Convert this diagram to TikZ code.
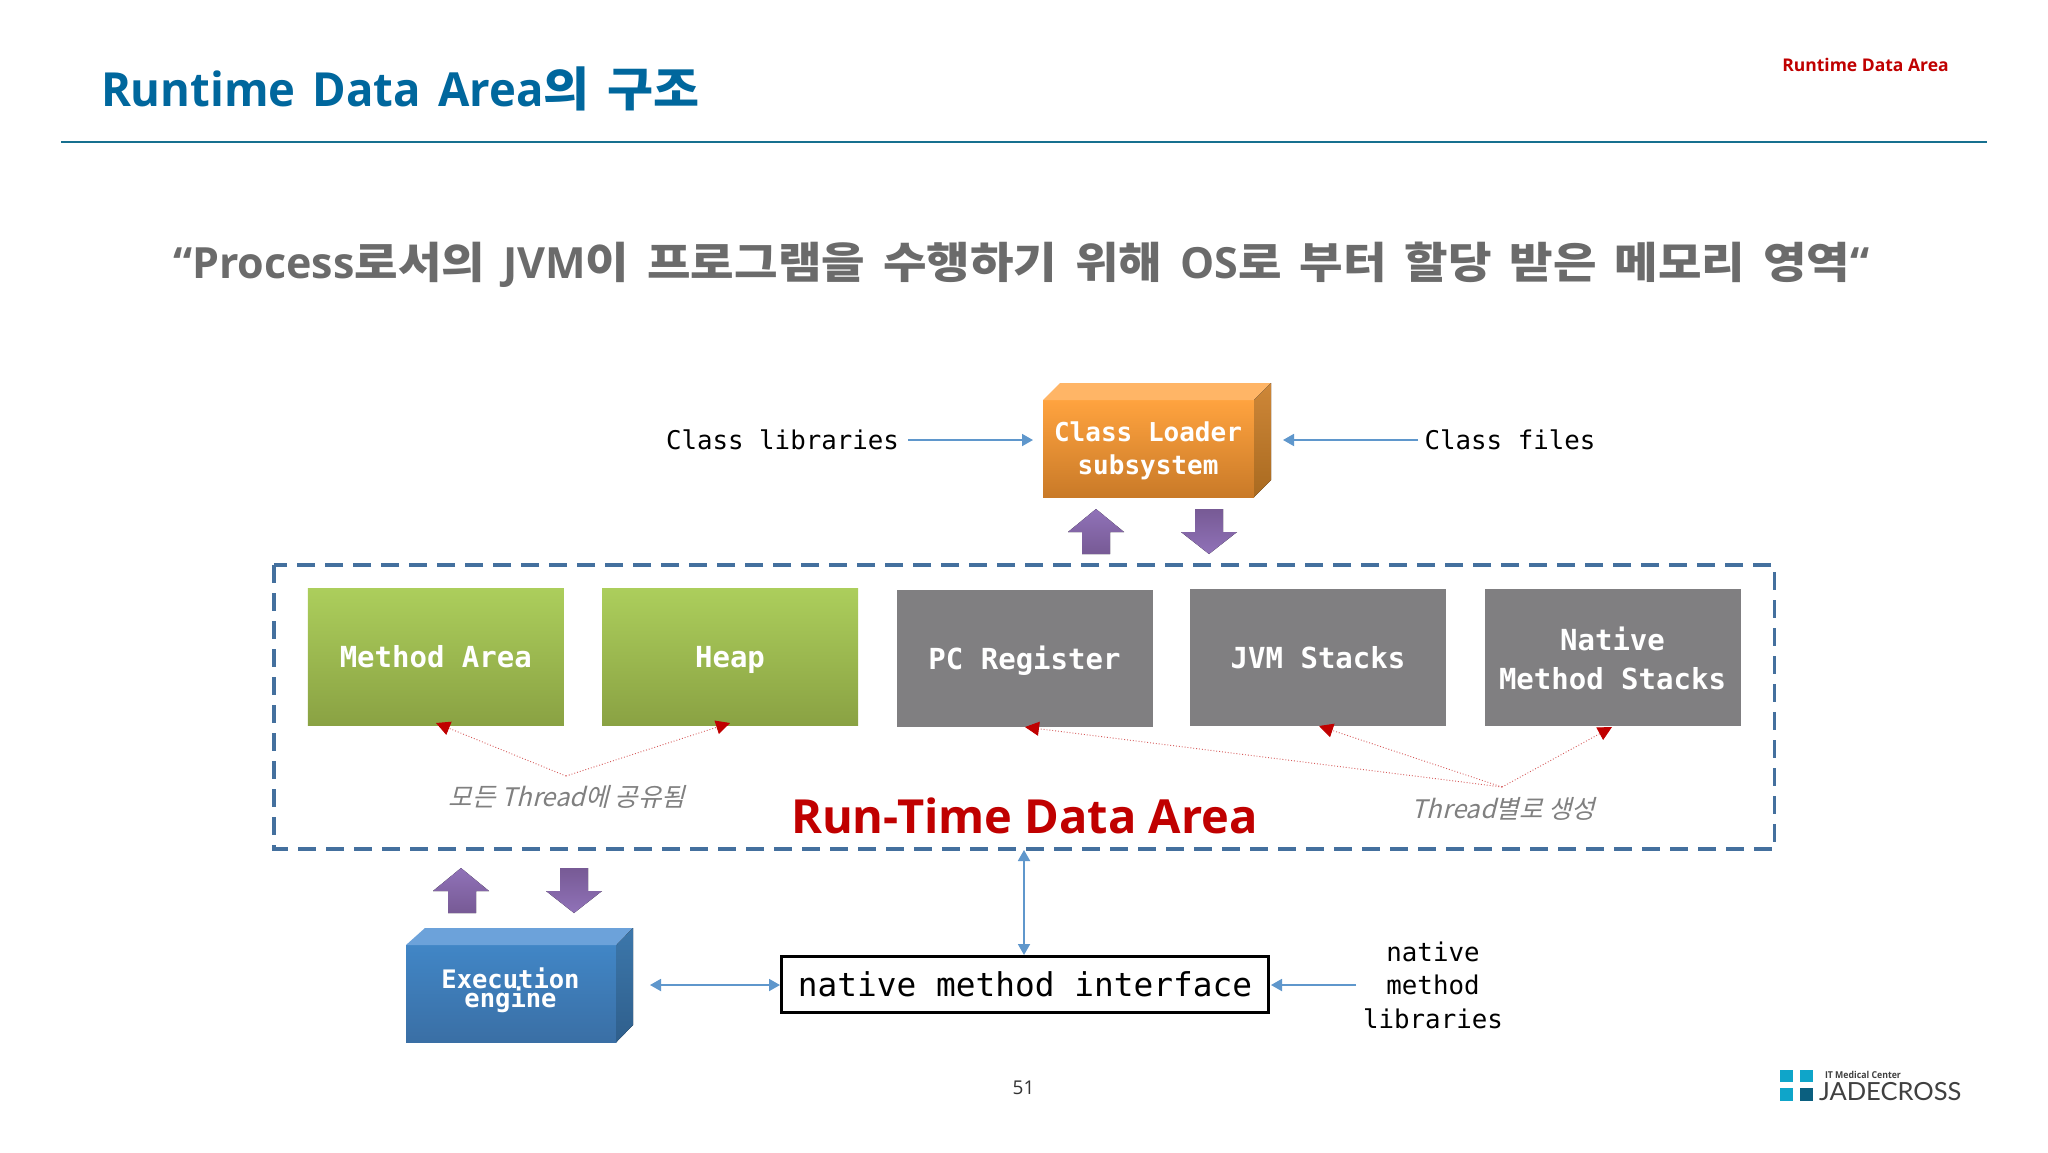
\documentclass[tikz,border=0pt]{standalone}
\usepackage{fontspec}
\usepackage{graphicx}
\usetikzlibrary{arrows.meta,calc}
\setmainfont{Open Sans}
\newfontfamily\kr{Noto Sans CJK KR}
\newfontfamily\krslant[FakeSlant=0.25]{Noto Sans CJK KR}
\newfontfamily\mono{DejaVu Sans Mono}
\newfontfamily\logofont{Lato}
\newcommand{\fs}[1]{\fontsize{#1}{#1}\selectfont}
\newcommand{\latT}[1]{\scalebox{0.967}[1]{#1}}
\newcommand{\hanT}[1]{\scalebox{1.065}[1]{\kr\bfseries #1}}
\newcommand{\hanS}[1]{\scalebox{1.10}[1]{\kr\bfseries #1}}
\newcommand{\gapS}{\hspace{18pt}}
\definecolor{titleblue}{HTML}{00679D}
\definecolor{rulecol}{HTML}{17708F}
\definecolor{redtxt}{HTML}{C00000}
\definecolor{subgray}{HTML}{6B6B6B}
\definecolor{dashblue}{HTML}{44709E}
\definecolor{flow}{HTML}{5F97CC}
\definecolor{graybox}{HTML}{807F81}
\definecolor{greenT}{HTML}{ACCE5C}
\definecolor{greenB}{HTML}{8AA243}
\definecolor{purpL}{HTML}{9072B8}
\definecolor{purpD}{HTML}{775A95}
\definecolor{orT}{HTML}{FFA33F}
\definecolor{orB}{HTML}{C97A28}
\definecolor{orTop}{HTML}{FFB566}
\definecolor{orST}{HTML}{CE8738}
\definecolor{orSB}{HTML}{A96A20}
\definecolor{blT}{HTML}{4186C6}
\definecolor{blB}{HTML}{3A6FA5}
\definecolor{blTop}{HTML}{6CA2DA}
\definecolor{blST}{HTML}{3C77AB}
\definecolor{blSB}{HTML}{2F5F8C}
\definecolor{logoL}{HTML}{0FA5C9}
\definecolor{logoD}{HTML}{0B5F7F}
\tikzset{
  x=1pt,y=-1pt,
  txt/.style={inner sep=0pt,outer sep=0pt,anchor=center},
  box/.style={inner sep=0pt,outer sep=0pt,minimum width=#1,minimum height=137pt,align=center,text=white,font=\mono\bfseries\fs{29},text height=26pt,text depth=5pt},
  greenbox/.style={box=256pt,top color=greenT,bottom color=greenB},
  greybox/.style={box=256pt,fill=graybox},
  flowline/.style={draw=flow,line width=1.8pt,-{Triangle[length=11pt,width=12pt]}},
  flowboth/.style={draw=flow,line width=1.8pt,{Triangle[length=11pt,width=12pt]}-{Triangle[length=11pt,width=12pt]}},
  threadline/.style={draw=redtxt!65,line width=0.9pt,dotted,-{Triangle[length=14pt,width=14pt,color=redtxt,fill=redtxt]}},
}
\begin{document}
\begin{tikzpicture}
\useasboundingbox (0,0) rectangle (2048,1152);
\fill[white] (0,0) rectangle (2048,1152);

% header
\node[txt,anchor=base west,text=titleblue] (title) at (101,106) {\fs{47}\bfseries \latT{Runtime}\hspace{17pt}\latT{Data}\hspace{17pt}\latT{Area}\hanT{의}\hspace{18pt}\hanT{구조}};
\node[txt,text=redtxt] (tag) at (1865.5,64.5) {\fs{17.5}\bfseries Runtime Data Area};
\coordinate (ruleL) at (61,141.5);
\coordinate (ruleR) at (1987,141.5);
\draw[rulecol,line width=2pt] (ruleL) -- (ruleR);
\node[txt,anchor=base west,text=subgray] (sub) at (173,278) {\fs{43}\bfseries “Process\hanS{로서의}\gapS JVM\hanS{이}\gapS\hanS{프로그램을}\gapS\hanS{수행하기}\gapS\hanS{위해}\gapS OS\hanS{로}\gapS\hanS{부터}\gapS\hanS{할당}\gapS\hanS{받은}\gapS\hanS{메모리}\gapS\hanS{영역}“};

% dashed area
\coordinate (dTL) at (274,565);
\coordinate (dBR) at (1774.5,849);
\draw[dashblue,line width=3.8pt,dash pattern=on 18pt off 10pt] (dTL) rectangle (dBR);

% data-area boxes
\node[greenbox] (method) at (435.8,656.5) {Method Area};
\node[greenbox] (heap) at (730,656.5) {Heap};
\node[greybox] (pc) at (1024.5,658.5) {PC Register};
\node[greybox] (jvm) at (1318,657.5) {JVM Stacks};
\node[greybox] (native) at (1612.5,657.5) {};
\node[txt,text=white,font=\mono\bfseries\fs{29}] (nat1) at (1612.5,639) {Native};
\node[txt,text=white,font=\mono\bfseries\fs{29}] (nat2) at (1612.5,679) {Method Stacks};

% arrows under the boxes
\coordinate (apexA) at (566,776);
\coordinate (apexB) at (1502,787);
\coordinate (tMethod) at (436,723);
\coordinate (tHeap) at (730,723);
\coordinate (tPC) at (1025,727);
\coordinate (tJVM) at (1319,726);
\coordinate (tNative) at (1612,727);
\draw[threadline] (apexA) -- (tMethod);
\draw[threadline] (apexA) -- (tHeap);
\draw[threadline] (apexB) -- (tPC);
\draw[threadline] (apexB) -- (tJVM);
\draw[threadline] (apexB) -- (tNative);

\node[txt,text=gray] (shared) at (567,797) {\fs{25.5}\krslant 모든 Thread에 공유됨};
\node[txt,text=gray] (perthread) at (1503.5,809) {\fs{25.5}\krslant Thread별로 생성};
\node[txt,anchor=base west,text=redtxt] (rtda) at (791,833) {\fs{47}\bfseries Run-Time Data Area};

% class loader cuboid
\fill[top color=orT,bottom color=orB] (1043,400) rectangle (1254,497);
\fill[orTop] (1043,400) -- (1060,383) -- (1271,383) -- (1254,400) -- cycle;
\fill[top color=orST,bottom color=orSB] (1254,400) -- (1271,383) -- (1271,480) -- (1254,497) -- cycle;
\node[txt,text=white,font=\mono\bfseries\fs{26}] (cl1) at (1148,432) {Class Loader};
\node[txt,text=white,font=\mono\bfseries\fs{26}] (cl2) at (1148,467) {subsystem};

% purple arrows (loader)
\fill[bottom color=purpD,top color=purpL] (1096,509) -- (1124,532) -- (1110,532) -- (1110,554) -- (1082,554) -- (1082,532) -- (1068,532) -- cycle;
\fill[top color=purpD,bottom color=purpL] (1195,509) -- (1223,509) -- (1223,532) -- (1237,532) -- (1209,554) -- (1181,532) -- (1195,532) -- cycle;

% execution cuboid
\fill[top color=blT,bottom color=blB] (406,945) rectangle (616.5,1042);
\fill[blTop] (406,945) -- (425,928) -- (633,928) -- (616.5,945) -- cycle;
\fill[top color=blST,bottom color=blSB] (616.5,945) -- (633,928) -- (633,1025) -- (616.5,1042) -- cycle;
\node[txt,text=white,font=\mono\bfseries\fs{25.5}] (ex1) at (510.5,978) {Execution};
\node[txt,text=white,font=\mono\bfseries\fs{25.5}] (ex2) at (510.5,1000) {engine};

% purple arrows (execution)
\fill[bottom color=purpD,top color=purpL] (461,868) -- (489,891) -- (476,891) -- (476,913) -- (448,913) -- (448,891) -- (433,891) -- cycle;
\fill[top color=purpD,bottom color=purpL] (560,868) -- (588,868) -- (588,891) -- (602,891) -- (574,913) -- (546,891) -- (560,891) -- cycle;

% native method interface
\node[draw=black,line width=3pt,fill=white,inner sep=0pt,minimum width=487pt,minimum height=56pt,font=\mono\fs{32.8}] (nmi) at (1025,984.5) {native method interface};

% class labels
\node[txt,font=\mono\fs{25.8}] (clib) at (782.5,440) {Class libraries};
\node[txt,font=\mono\fs{25.8}] (cfiles) at (1510,440) {Class files};
\coordinate (clibEnd) at (908,440);
\coordinate (loaderL) at (1033,440);
\coordinate (loaderR) at (1283,440);
\coordinate (cfilesEnd) at (1418,440);
\draw[flowline] (clibEnd) -- (loaderL);
\draw[flowline] (cfilesEnd) -- (loaderR);

% native libraries
\node[txt,font=\mono\fs{25.8}] (nl1) at (1433,952) {native};
\node[txt,font=\mono\fs{25.8}] (nl2) at (1433,985) {method};
\node[txt,font=\mono\fs{25.8}] (nl3) at (1433,1019) {libraries};
\coordinate (nmiR) at (1271,985);
\coordinate (nlEnd) at (1356,985);
\draw[flowline] (nlEnd) -- (nmiR);
\coordinate (areaB) at (1024,850);
\draw[flowboth] (areaB) -- (nmi.north -| areaB);
\coordinate (execR) at (650,985);
\draw[flowboth] (execR) -- (nmi.west |- execR);

% footer
\node[txt,text=black!80] (page) at (1023.5,1088) {\fs{19}51};
\fill[logoL] (1780,1070) rectangle (1793,1082);
\fill[logoL] (1800,1070) rectangle (1813,1082);
\fill[logoL] (1780,1088) rectangle (1793,1101);
\fill[logoD] (1800,1088) rectangle (1813,1101);
\node[txt,anchor=west,text=black!75] (it) at (1825,1074.5) {\scalebox{0.92}[1]{\fs{9.5}\bfseries IT Medical Center}};
\node[txt,anchor=base west,text=black!75] (jade) at (1819,1100) {\scalebox{1.02}[1]{\logofont\fs{25}JADECROSS}};
\end{tikzpicture}
\end{document}
